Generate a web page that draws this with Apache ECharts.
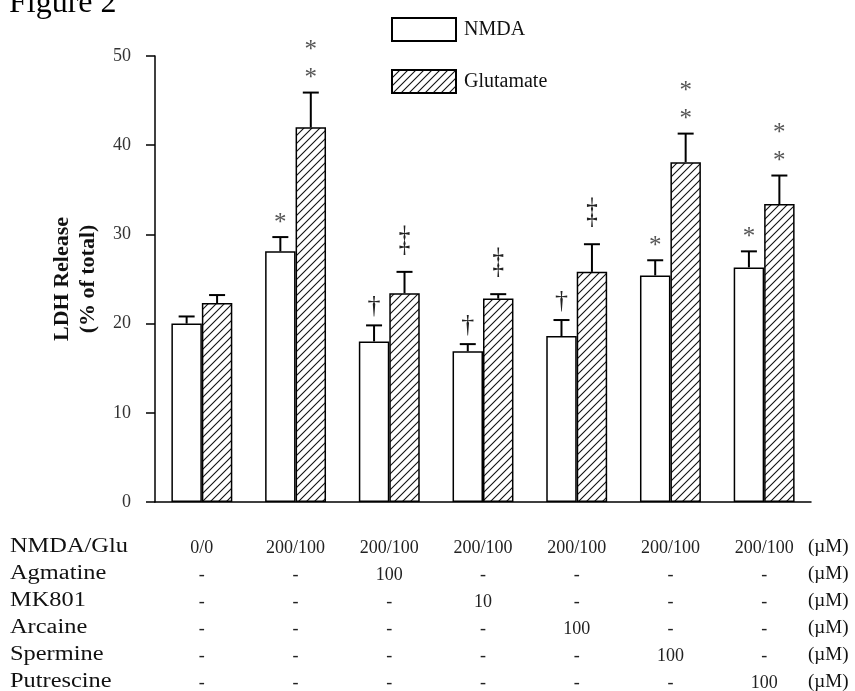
<!DOCTYPE html>
<html>
<head>
<meta charset="utf-8">
<script src="https://cdn.jsdelivr.net/npm/echarts@6/dist/echarts.min.js"></script>
<style>
html,body{margin:0;padding:0;background:#fff;}
#chart{width:855px;height:691px;}
</style>
</head>
<body>
<div id="chart"></div>
<script>
// ---- data ----
var categories = ['Control', 'NMDA/Glu', 'Agmatine', 'MK801', 'Arcaine', 'Spermine', 'Putrescine'];
var nmdaValues = [20.0, 28.1, 18.0, 16.9, 18.6, 25.4, 26.3];
var nmdaErrors = [0.8, 1.6, 1.8, 0.8, 1.8, 1.7, 1.8];
var gluValues = [22.3, 42.0, 23.4, 22.8, 25.8, 38.1, 33.4];
var gluErrors = [0.9, 3.9, 2.4, 0.5, 3.1, 3.2, 3.2];
var nmdaMarks = ['', '*', '†', '†', '†', '*', '*'];
var gluMarks = ['', '**', '‡', '‡', '‡', '**', '**'];
var yTicks = [0, 10, 20, 30, 40, 50];

var rowLabels = ['NMDA/Glu', 'Agmatine', 'MK801', 'Arcaine', 'Spermine', 'Putrescine'];
var rowNmdaGlu = ['0/0', '200/100', '200/100', '200/100', '200/100', '200/100', '200/100'];
var rowAgmatine = ['-', '-', '100', '-', '-', '-', '-'];
var rowMK801 = ['-', '-', '-', '10', '-', '-', '-'];
var rowArcaine = ['-', '-', '-', '-', '100', '-', '-'];
var rowSpermine = ['-', '-', '-', '-', '-', '100', '-'];
var rowPutrescine = ['-', '-', '-', '-', '-', '-', '100'];
var unitLabel = '(µM)';
var tableRows = [rowNmdaGlu, rowAgmatine, rowMK801, rowArcaine, rowSpermine, rowPutrescine];

// ---- styling ----
var FONT = '"Liberation Serif", "Times New Roman", serif';

function makeHatch() {
  var c = document.createElement('canvas');
  var s = 8;
  c.width = s; c.height = s;
  var g = c.getContext('2d');
  g.fillStyle = '#fff';
  g.fillRect(0, 0, s, s);
  g.strokeStyle = '#111';
  g.lineWidth = 1.1;
  g.beginPath();
  g.moveTo(0, s); g.lineTo(s, 0);
  g.moveTo(-2, 2); g.lineTo(2, -2);
  g.moveTo(s - 2, s + 2); g.lineTo(s + 2, s - 2);
  g.stroke();
  return c;
}
var hatch = { image: makeHatch(), repeat: 'repeat' };

var GAP = 0.35;

function errorRenderer(marks, side) {
  return function (params, api) {
    var i = api.value(0);
    var mean = api.value(1);
    var err = api.value(2);
    var band = api.size([1, 0])[0];
    var bw = band * (1 - GAP) / 2;
    var base = api.coord([i, mean]);
    var x = base[0] + side * bw / 2;
    var top = api.coord([i, mean + err])[1];
    var children = [
      { type: 'line', shape: { x1: x, y1: base[1], x2: x, y2: top }, style: { stroke: '#000', lineWidth: 2 } },
      { type: 'line', shape: { x1: x - 8, y1: top, x2: x + 8, y2: top }, style: { stroke: '#000', lineWidth: 2 } }
    ];
    var m = marks[i] || '';
    for (var k = 0; k < m.length; k++) {
      var ch = m.charAt(k);
      if (ch === '*') {
        children.push({ type: 'text', x: x, y: top - 14 - k * 28,
          style: { text: '*', x: 0, y: 0, align: 'center', verticalAlign: 'middle', font: '25px ' + FONT, fill: '#555' } });
      } else if (ch === '†') {
        children.push({ type: 'text', x: x, y: top - 19,
          style: { text: '†', x: 0, y: 0, align: 'center', verticalAlign: 'middle', font: '26px ' + FONT, fill: '#222' } });
      } else if (ch === '‡') {
        children.push({ type: 'text', x: x, y: top - 31, scaleY: 1.6,
          style: { text: '‡', x: 0, y: 0, align: 'center', verticalAlign: 'middle', font: '23px ' + FONT, fill: '#222' } });
      }
    }
    return { type: 'group', children: children };
  };
}

function errData(vals, errs) {
  return vals.map(function (v, i) { return [i, v, errs[i]]; });
}

var graphics = [
  { type: 'text', left: 9, top: -12, style: { text: 'Figure 2', font: '32px ' + FONT, fill: '#000' } }
];
rowLabels.forEach(function (lab, r) {
  graphics.push({ type: 'text', left: 10, top: 537 + r * 27, scaleX: 1.22,
    style: { text: lab, font: '20px ' + FONT, fill: '#111' } });
  graphics.push({ type: 'text', left: 808, top: 538 + r * 27,
    style: { text: unitLabel, font: '19px ' + FONT, fill: '#111' } });
});

var chart = echarts.init(document.getElementById('chart'));
chart.setOption({
  backgroundColor: '#fff',
  animation: false,
  textStyle: { fontFamily: FONT },
  grid: { left: 155, right: 44, top: 56, bottom: 189, containLabel: false, outerBoundsMode: 'none' },
  legend: {
    orient: 'vertical',
    left: 386,
    top: 12,
    itemWidth: 64,
    itemHeight: 23,
    itemGap: 27,
    icon: 'rect',
    textStyle: { fontFamily: FONT, fontSize: 20, color: '#111', padding: [0, 0, 0, 3] },
    data: ['NMDA', 'Glutamate']
  },
  xAxis: {
    type: 'category',
    data: categories,
    axisLine: { lineStyle: { color: '#000', width: 1.5 } },
    axisTick: { show: false },
    axisLabel: {
      margin: 33,
      interval: 0,
      lineHeight: 27,
      fontSize: 18,
      fontFamily: FONT,
      color: '#222',
      formatter: function (v, idx) {
        return tableRows.map(function (row) { return row[idx]; }).join('\n');
      }
    }
  },
  yAxis: {
    type: 'value',
    min: 0,
    max: 50,
    interval: 10,
    name: 'LDH Release\n(% of total)',
    nameLocation: 'middle',
    nameRotate: 90,
    nameGap: 54,
    nameTextStyle: { fontFamily: FONT, fontSize: 22, fontWeight: 'bold', color: '#111', lineHeight: 26 },
    splitLine: { show: false },
    axisLine: { show: true, lineStyle: { color: '#000', width: 1.5 } },
    axisTick: { show: true, length: 9, lineStyle: { color: '#000', width: 1.5 } },
    axisLabel: {
      margin: 24,
      fontSize: 18,
      fontFamily: FONT,
      color: '#333',
      formatter: function (v) { return yTicks.indexOf(v) >= 0 ? String(v) : ''; }
    }
  },
  series: [
    {
      name: 'NMDA', type: 'bar', data: nmdaValues,
      barGap: '0%', barCategoryGap: (GAP * 100) + '%',
      itemStyle: { color: '#fff', borderColor: '#000', borderWidth: 1.5 }
    },
    {
      name: 'Glutamate', type: 'bar', data: gluValues,
      barGap: '0%', barCategoryGap: (GAP * 100) + '%',
      itemStyle: { color: hatch, borderColor: '#000', borderWidth: 1.5 }
    },
    {
      type: 'custom', name: 'NMDA err', data: errData(nmdaValues, nmdaErrors),
      renderItem: errorRenderer(nmdaMarks, -1), z: 5, silent: true
    },
    {
      type: 'custom', name: 'Glu err', data: errData(gluValues, gluErrors),
      renderItem: errorRenderer(gluMarks, 1), z: 5, silent: true
    }
  ],
  graphic: graphics
});
</script>
</body>
</html>
